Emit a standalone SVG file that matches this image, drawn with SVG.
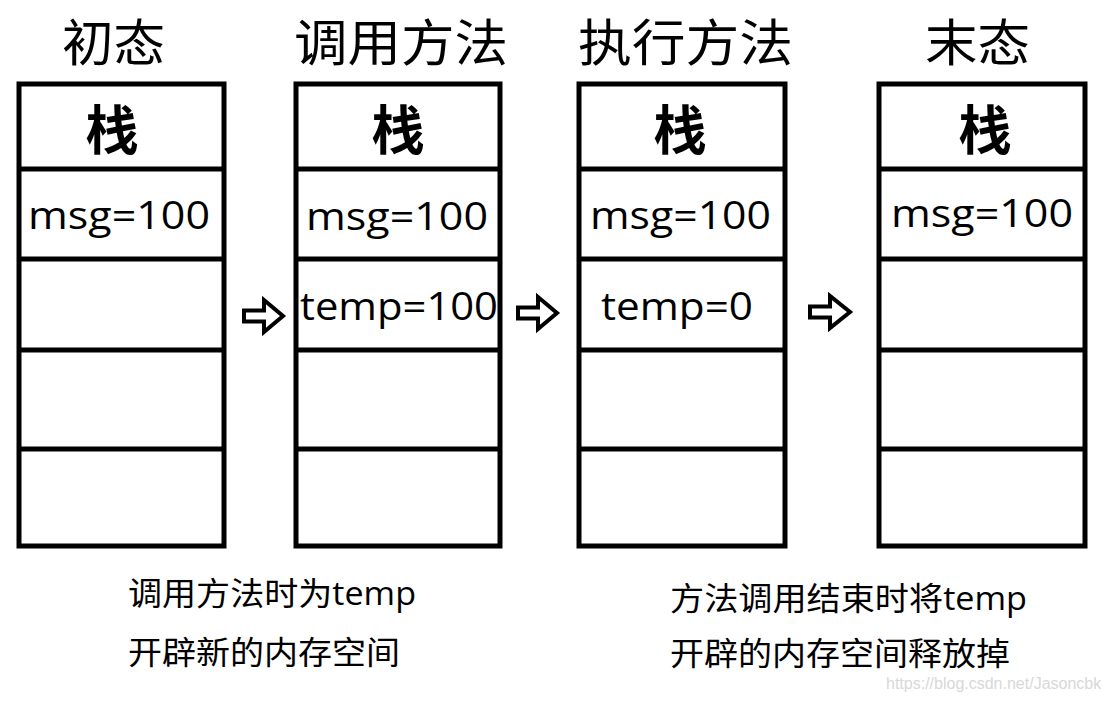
<svg xmlns="http://www.w3.org/2000/svg" width="1106" height="702" viewBox="0 0 1106 702">
<style>
.box{fill:#fff;stroke:#000;stroke-width:5}
.div{stroke:#000;stroke-width:5}
.title{font-family:"Noto Sans CJK SC","Noto Sans",sans-serif;font-size:50px;fill:#000}
.hdr{font-family:"Noto Sans CJK SC",sans-serif;font-size:53px;font-weight:bold;fill:#000;text-anchor:middle}
.val{font-family:"Open Sans","Noto Sans CJK SC",sans-serif;font-size:38px;fill:#000}
.note{font-family:"Open Sans","Noto Sans CJK SC",sans-serif;font-size:32px;fill:#000}
.arrow{fill:#fff;stroke:#000;stroke-width:4;stroke-linejoin:miter}
.wm{font-family:"Liberation Sans",Arial,sans-serif;font-size:16px;fill:#d8d8d8}
</style>
<rect width="1106" height="702" fill="#fff"/>

<g id="stack1">
<rect class="box" x="19" y="84" width="205" height="462"/>
<line class="div" x1="19" y1="169" x2="224" y2="169"/>
<line class="div" x1="19" y1="259" x2="224" y2="259"/>
<line class="div" x1="19" y1="350" x2="224" y2="350"/>
<line class="div" x1="19" y1="449" x2="224" y2="449"/>
<text class="title" x="62" y="61" textLength="103" lengthAdjust="spacingAndGlyphs">初态</text>
<text class="hdr" x="112" y="150">栈</text>
<text class="val" x="28" y="229" textLength="182" lengthAdjust="spacingAndGlyphs">msg=100</text>
</g>

<g id="stack2">
<rect class="box" x="296" y="84" width="204" height="462"/>
<line class="div" x1="296" y1="169" x2="500" y2="169"/>
<line class="div" x1="296" y1="259" x2="500" y2="259"/>
<line class="div" x1="296" y1="350" x2="500" y2="350"/>
<line class="div" x1="296" y1="449" x2="500" y2="449"/>
<text class="title" x="294" y="61" textLength="214" lengthAdjust="spacingAndGlyphs">调用方法</text>
<text class="hdr" x="398" y="150">栈</text>
<text class="val" x="306" y="230" textLength="182" lengthAdjust="spacingAndGlyphs">msg=100</text>
<text class="val" x="300" y="320" textLength="198" lengthAdjust="spacingAndGlyphs">temp=100</text>
</g>

<g id="stack3">
<rect class="box" x="579" y="84" width="206" height="462"/>
<line class="div" x1="579" y1="169" x2="785" y2="169"/>
<line class="div" x1="579" y1="259" x2="785" y2="259"/>
<line class="div" x1="579" y1="350" x2="785" y2="350"/>
<line class="div" x1="579" y1="449" x2="785" y2="449"/>
<text class="title" x="578" y="61" textLength="215" lengthAdjust="spacingAndGlyphs">执行方法</text>
<text class="hdr" x="680" y="150">栈</text>
<text class="val" x="590" y="229" textLength="181" lengthAdjust="spacingAndGlyphs">msg=100</text>
<text class="val" x="601" y="320" textLength="152" lengthAdjust="spacingAndGlyphs">temp=0</text>
</g>

<g id="stack4">
<rect class="box" x="879" y="84" width="206" height="462"/>
<line class="div" x1="879" y1="169" x2="1085" y2="169"/>
<line class="div" x1="879" y1="259" x2="1085" y2="259"/>
<line class="div" x1="879" y1="350" x2="1085" y2="350"/>
<line class="div" x1="879" y1="449" x2="1085" y2="449"/>
<text class="title" x="925" y="61" textLength="105" lengthAdjust="spacingAndGlyphs">末态</text>
<text class="hdr" x="985" y="150">栈</text>
<text class="val" x="891" y="227" textLength="182" lengthAdjust="spacingAndGlyphs">msg=100</text>
</g>

<g id="connectors">
<polygon class="arrow" points="244,310.5 264,310.5 264,300 283,316 264,332 264,321.5 244,321.5"/>
<polygon class="arrow" points="518,307.5 538,307.5 538,297 557,313 538,329 538,318.5 518,318.5"/>
<polygon class="arrow" points="810,306.5 830,306.5 830,296 850,312 830,328 830,317.5 810,317.5"/>
</g>

<g id="note-left">
<text class="note" x="128" y="605" textLength="288" lengthAdjust="spacingAndGlyphs">调用方法时为temp</text>
<text class="note" x="128" y="664" textLength="272" lengthAdjust="spacingAndGlyphs">开辟新的内存空间</text>
</g>
<g id="note-right">
<text class="note" x="670" y="610" textLength="357" lengthAdjust="spacingAndGlyphs">方法调用结束时将temp</text>
<text class="note" x="670" y="665" textLength="340" lengthAdjust="spacingAndGlyphs">开辟的内存空间释放掉</text>
</g>
<text class="wm" x="886" y="689">https://blog.csdn.net/Jasoncbk</text>
</svg>
